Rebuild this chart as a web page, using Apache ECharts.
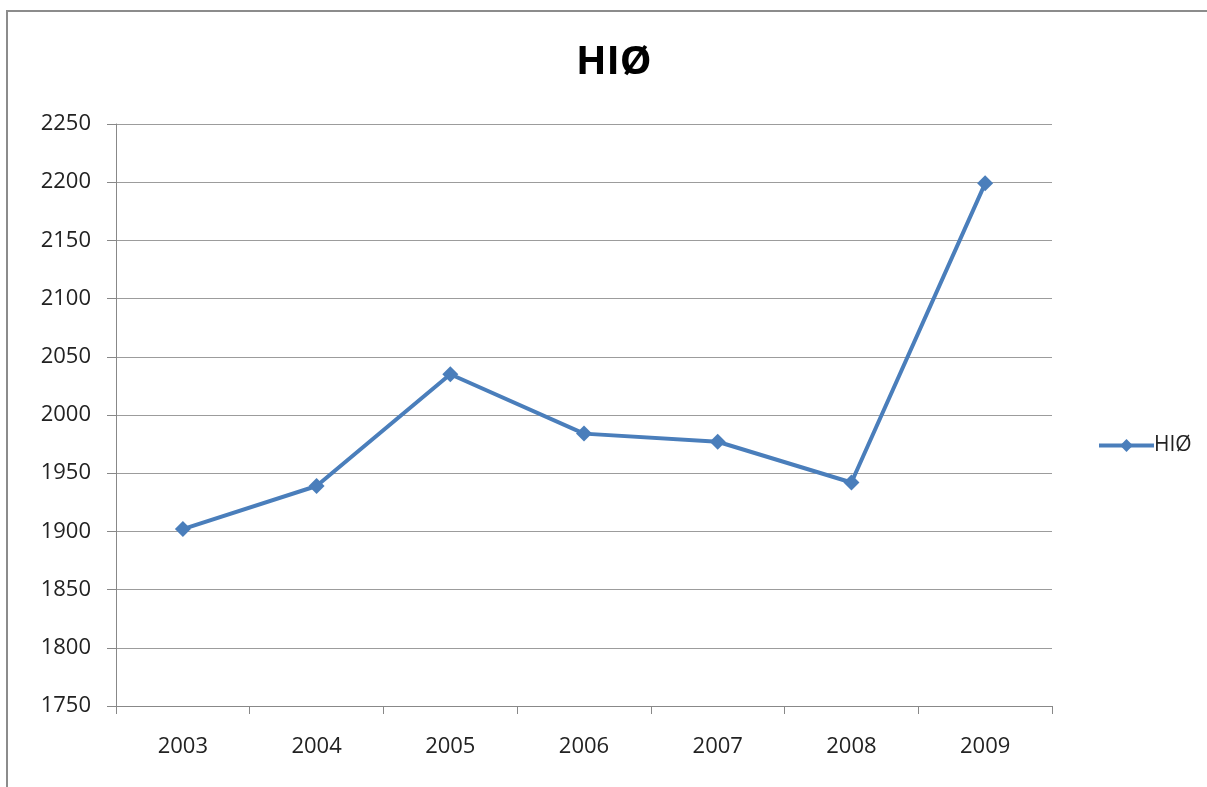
<!DOCTYPE html>
<html>
<head>
<meta charset="utf-8">
<script src="https://cdn.jsdelivr.net/npm/echarts@6/dist/echarts.min.js"></script>
<style>
  html, body { margin: 0; padding: 0; background: #fff; }
  #chart { width: 1207px; height: 787px; }
</style>
</head>
<body>
<div id="chart"></div>
<script>
// chart data
var years = ['2003', '2004', '2005', '2006', '2007', '2008', '2009']
var hioValues = [1902, 1939, 2035, 1984, 1977, 1942, 2199]
var seriesName = 'HIØ'

var myChart = echarts.init(document.getElementById('chart'))

myChart.setOption({
  animation: false,
  textStyle: { fontFamily: 'Open Sans' },
  title: {
    text: seriesName,
    left: 571,
    top: 38,
    textStyle: { fontSize: 40, fontWeight: 'bold', color: '#000', fontFamily: 'Open Sans' }
  },
  // outer chart frame (only top and left edges are visible)
  graphic: [{
    type: 'polyline',
    shape: { points: [[7, 800], [7, 11], [1210, 11]] },
    style: { stroke: '#8c8c8c', lineWidth: 2, fill: null }
  }],
  legend: {
    left: 1092,
    top: 430,
    orient: 'vertical',
    itemWidth: 55,
    itemHeight: 16,
    itemGap: 4,
    lineStyle: { width: 4 },
    textStyle: { fontSize: 21, color: '#222', padding: [0, 0, 0, -5] },
    data: [seriesName]
  },
  grid: {
    left: 116,
    right: 155,
    top: 124,
    bottom: 81,
    containLabel: false
  },
  xAxis: {
    type: 'category',
    data: years,
    boundaryGap: true,
    axisLine: { lineStyle: { color: '#888', width: 1 } },
    axisTick: { show: true, length: 8, lineStyle: { color: '#888' } },
    axisLabel: { fontSize: 22, color: '#222', margin: 30 },
    splitLine: { show: false }
  },
  yAxis: {
    type: 'value',
    min: 1750,
    max: 2250,
    interval: 50,
    axisLine: { show: true, lineStyle: { color: '#888', width: 1 } },
    axisTick: { show: true, length: 9, lineStyle: { color: '#888' } },
    axisLabel: {
      fontSize: 22,
      color: '#222',
      margin: 25,
      formatter: function(v) { return String(v) }
    },
    splitLine: { show: true, lineStyle: { color: '#9c9c9c', width: 1 } }
  },
  series: [
    {
      name: seriesName,
      type: 'line',
      data: hioValues,
      symbol: 'diamond',
      symbolSize: 16,
      lineStyle: { color: '#4a7ebb', width: 4 },
      itemStyle: { color: '#4a7ebb' }
    }
  ]
})
</script>
</body>
</html>
